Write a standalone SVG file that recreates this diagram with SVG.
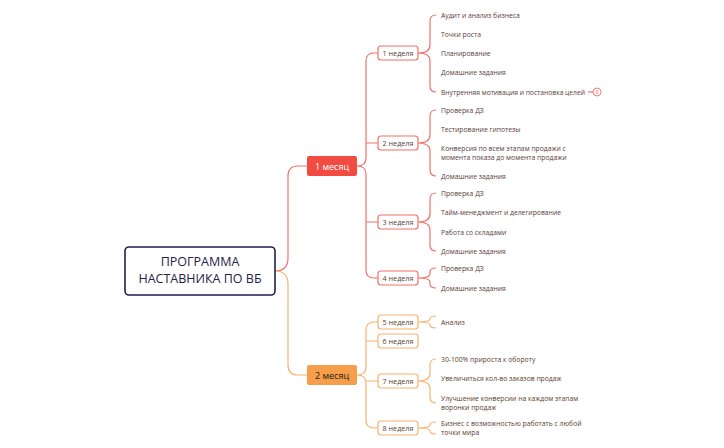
<svg xmlns="http://www.w3.org/2000/svg" width="724" height="448" viewBox="0 0 724 448">
<style>
text{font-family:"Open Sans","Liberation Sans",sans-serif}
.leaf{font-size:6.8px;fill:#5a3c3c}
.leafo{font-size:6.8px;fill:#5a4030}
.wk{fill:#fff;stroke-width:1.2}
.r{stroke:#f3706a}
.o{stroke:#f7b36e}
.wt{font-size:7.2px;text-anchor:middle}
.c path{fill:none;stroke-width:1.2}
</style>
<rect width="724" height="448" fill="#fff"/>
<g class="c" id="connectors">
<path class="r" d="M275,271 Q288,271 288,258 V176 Q288,166 298,166 H307"/>
<path class="o" d="M275,271 Q288,271 288,284 V365 Q288,375 298,375 H307"/>
<path class="r" d="M357,166 Q366,166 366,158 V61 Q366,53 374,53 H378 M357,166 Q366,166 366,174 V270 Q366,278 374,278 H378 M366,143 H378 M366,222 H378"/>
<path class="o" d="M357,375 Q366,375 366,367 V330 Q366,322 374,322 H378 M357,375 Q366,375 366,383 V420 Q366,428 374,428 H378 M366,341 H378 M366,381 H378"/>
<path class="r" d="M418,53 Q430,53 430,45 V21 Q430,15 436,15 M418,53 Q430,53 430,61 V86 Q430,92 436,92"/>
<path class="r" d="M418,143 Q430,143 430,135 V116 Q430,110 436,110 M418,143 Q430,143 430,151 V170 Q430,176 436,176"/>
<path class="r" d="M418,222 Q430,222 430,214 V199 Q430,193 436,193 M418,222 Q430,222 430,230 V245 Q430,251 436,251"/>
<path class="r" d="M418,278 Q430,278 430,274 V272 Q430,268 436,268 M418,278 Q430,278 430,282 V284 Q430,288 436,288"/>
<path class="o" d="M418,322 Q430,322 430,319 Q430,316 436,316 M418,322 Q430,322 430,325 Q430,328 436,328"/>
<path class="o" d="M418,381 Q430,381 430,373 V365 Q430,359 436,359 M418,381 Q430,381 430,389 V397 Q430,403 436,403"/>
<path class="o" d="M418,428 Q430,428 430,425 Q430,422 436,422 M418,428 Q430,428 430,431 Q430,434 436,434"/>
<path class="r" d="M588,92 H593"/>
</g>
<g id="root"><rect x="125" y="247" width="150" height="48" rx="4" fill="#fff" stroke="#1e2247" stroke-width="1.6"/>
<text x="200" y="266" font-size="12.5" text-anchor="middle" fill="#1e2247">ПРОГРАММА</text>
<text x="200" y="283" font-size="12.5" text-anchor="middle" fill="#1e2247">НАСТАВНИКА ПО ВБ</text></g>
<g id="m1"><rect x="307" y="156" width="50" height="20" rx="2" fill="#f24c42"/><text x="332" y="169.5" font-size="9" text-anchor="middle" fill="#fff">1 месяц</text></g>
<g id="m2"><rect x="307" y="365" width="50" height="20" rx="2" fill="#f59e4c"/><text x="332" y="378.5" font-size="9" text-anchor="middle" fill="#2a1a10">2 месяц</text></g>
<g id="w1"><rect class="wk r" x="378" y="46" width="40" height="14" rx="3"/><text class="wt" x="398" y="55.5" fill="#5a3c3c">1 неделя</text></g>
<g id="w2"><rect class="wk r" x="378" y="136" width="40" height="14" rx="3"/><text class="wt" x="398" y="145.5" fill="#5a3c3c">2 неделя</text></g>
<g id="w3"><rect class="wk r" x="378" y="215" width="40" height="14" rx="3"/><text class="wt" x="398" y="224.5" fill="#5a3c3c">3 неделя</text></g>
<g id="w4"><rect class="wk r" x="378" y="271" width="40" height="14" rx="3"/><text class="wt" x="398" y="280.5" fill="#5a3c3c">4 неделя</text></g>
<g id="w5"><rect class="wk o" x="378" y="315" width="40" height="14" rx="3"/><text class="wt" x="398" y="324.5" fill="#5a4030">5 неделя</text></g>
<g id="w6"><rect class="wk o" x="378" y="334" width="40" height="14" rx="3"/><text class="wt" x="398" y="343.5" fill="#5a4030">6 неделя</text></g>
<g id="w7"><rect class="wk o" x="378" y="374" width="40" height="14" rx="3"/><text class="wt" x="398" y="383.5" fill="#5a4030">7 неделя</text></g>
<g id="w8"><rect class="wk o" x="378" y="421" width="40" height="14" rx="3"/><text class="wt" x="398" y="430.5" fill="#5a4030">8 неделя</text></g>
<g id="leaves1">
<text class="leaf" x="441" y="17.5">Аудит и анализ бизнеса</text>
<text class="leaf" x="441" y="36.5">Точки роста</text>
<text class="leaf" x="441" y="55.5">Планирование</text>
<text class="leaf" x="441" y="74.5">Домашние задания</text>
<text class="leaf" x="441" y="94.5" textLength="144" lengthAdjust="spacingAndGlyphs">Внутренняя мотивация и постановка целей</text>
<circle cx="597" cy="92" r="4" fill="#fff" stroke="#f3706a" stroke-width="0.9"/><text x="597" y="94.2" font-size="5.5" text-anchor="middle" fill="#f3706a">8</text>
</g>
<g id="leaves2">
<text class="leaf" x="441" y="112.5">Проверка ДЗ</text>
<text class="leaf" x="441" y="131.5">Тестирование гипотезы</text>
<text class="leaf" x="441" y="150.5">Конверсия по всем этапам продажи с</text>
<text class="leaf" x="441" y="159.5">момента показа до момента продажи</text>
<text class="leaf" x="441" y="178.5">Домашние задания</text>
</g>
<g id="leaves3">
<text class="leaf" x="441" y="195.5">Проверка ДЗ</text>
<text class="leaf" x="441" y="214.5">Тайм-менеджмент и делегирование</text>
<text class="leaf" x="441" y="234.5">Работа со складами</text>
<text class="leaf" x="441" y="253.5">Домашние задания</text>
</g>
<g id="leaves4">
<text class="leaf" x="441" y="270.5">Проверка ДЗ</text>
<text class="leaf" x="441" y="290.5">Домашние задания</text>
</g>
<g id="leaves5"><text class="leafo" x="441" y="324.5">Анализ</text></g>
<g id="leaves7">
<text class="leafo" x="441" y="361.5">30-100% прироста к обороту</text>
<text class="leafo" x="441" y="381">Увеличиться кол-во заказов продаж</text>
<text class="leafo" x="441" y="400.5">Улучшение конверсии на каждом этапам</text>
<text class="leafo" x="441" y="409.5">воронки продаж</text>
</g>
<g id="leaves8">
<text class="leafo" x="441" y="425.5">Бизнес с возможностью работать с любой</text>
<text class="leafo" x="441" y="434.5">точки мира</text>
</g>
</svg>
